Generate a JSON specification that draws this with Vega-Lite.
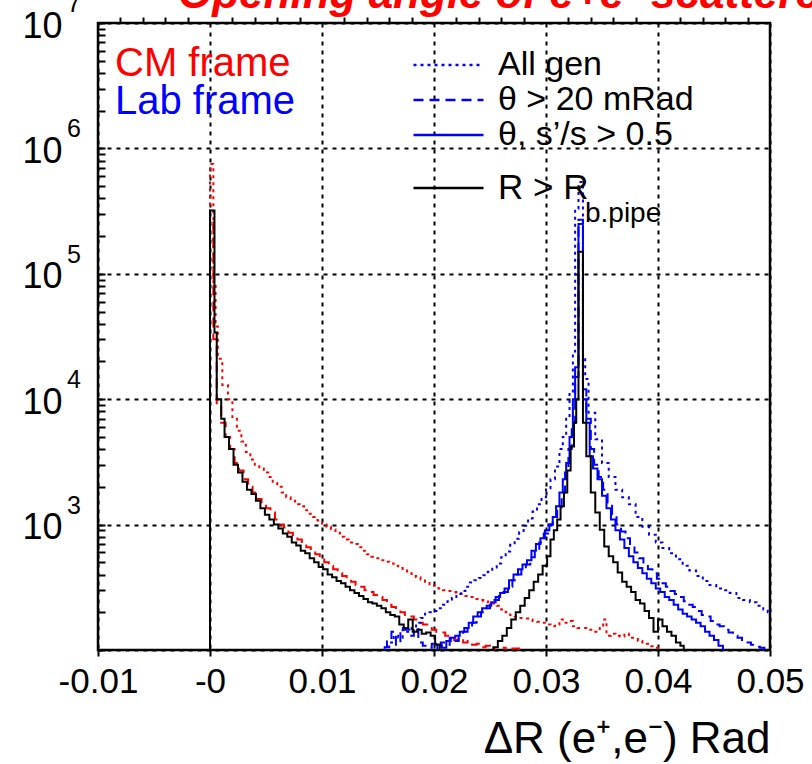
{
  "$schema": "https://vega.github.io/schema/vega-lite/v6.json",
  "width": 672,
  "height": 627,
  "autosize": {"type": "none"},
  "padding": {"left": 98, "top": 23, "right": 42, "bottom": 114},
  "background": "white",
  "config": {
    "font": "Liberation Sans",
    "view": {"stroke": "black", "strokeWidth": 2.5}
  },
  "title": {
    "text": "Opening angle of e+e- scattered",
    "color": "#ff0000",
    "fontSize": 44,
    "fontStyle": "italic",
    "fontWeight": "bold",
    "anchor": "start",
    "frame": "group",
    "dx": 80,
    "offset": -25
  },
  "resolve": {"axis": {"x": "independent", "y": "independent"}},
  "datasets": {
    "series": [
      {"s": "cmA", "frame": "CM frame", "cut": "All gen", "rcut": "other"},
      {"s": "cmT", "frame": "CM frame", "cut": "θ > 20 mRad", "rcut": "other"},
      {"s": "lA", "frame": "Lab frame", "cut": "All gen", "rcut": "other"},
      {"s": "lT", "frame": "Lab frame", "cut": "θ > 20 mRad", "rcut": "other"},
      {"s": "lS", "frame": "Lab frame", "cut": "θ, s’/s > 0.5", "rcut": "other"},
      {"s": "k", "frame": "R", "cut": "R > R", "rcut": "R > R"}
    ],
    "h": [
      {"s":"cmA","x":-0.001,"y":10},{"s":"cmA","x":0,"y":750000},{"s":"cmA","x":0.0003,"y":83000},{"s":"cmA","x":0.0005,"y":38000},{"s":"cmA","x":0.0007,"y":21000},{"s":"cmA","x":0.0011,"y":13000},{"s":"cmA","x":0.0016,"y":10000},{"s":"cmA","x":0.002,"y":7200},{"s":"cmA","x":0.0024,"y":5600},{"s":"cmA","x":0.0028,"y":4600},{"s":"cmA","x":0.0032,"y":3800},{"s":"cmA","x":0.0036,"y":3300},{"s":"cmA","x":0.004,"y":3000},{"s":"cmA","x":0.0044,"y":2800},{"s":"cmA","x":0.0048,"y":2600},{"s":"cmA","x":0.0052,"y":2400},{"s":"cmA","x":0.0056,"y":2150},{"s":"cmA","x":0.006,"y":2000},{"s":"cmA","x":0.0064,"y":1800},{"s":"cmA","x":0.0068,"y":1650},{"s":"cmA","x":0.0072,"y":1550},{"s":"cmA","x":0.0076,"y":1450},{"s":"cmA","x":0.008,"y":1400},{"s":"cmA","x":0.0084,"y":1300},{"s":"cmA","x":0.0088,"y":1220},{"s":"cmA","x":0.0092,"y":1150},{"s":"cmA","x":0.0096,"y":1080},{"s":"cmA","x":0.01,"y":1000},{"s":"cmA","x":0.0104,"y":960},{"s":"cmA","x":0.0108,"y":920},{"s":"cmA","x":0.0112,"y":860},{"s":"cmA","x":0.0116,"y":800},{"s":"cmA","x":0.012,"y":760},{"s":"cmA","x":0.0124,"y":720},{"s":"cmA","x":0.0128,"y":700},{"s":"cmA","x":0.0132,"y":660},{"s":"cmA","x":0.0136,"y":620},{"s":"cmA","x":0.014,"y":580},{"s":"cmA","x":0.0144,"y":555},{"s":"cmA","x":0.0148,"y":540},{"s":"cmA","x":0.0152,"y":520},{"s":"cmA","x":0.0156,"y":505},{"s":"cmA","x":0.016,"y":490},{"s":"cmA","x":0.0164,"y":470},{"s":"cmA","x":0.0168,"y":450},{"s":"cmA","x":0.0172,"y":430},{"s":"cmA","x":0.0176,"y":410},{"s":"cmA","x":0.018,"y":390},{"s":"cmA","x":0.0184,"y":380},{"s":"cmA","x":0.0188,"y":365},{"s":"cmA","x":0.0192,"y":350},{"s":"cmA","x":0.0196,"y":335},{"s":"cmA","x":0.02,"y":325},{"s":"cmA","x":0.0204,"y":310},{"s":"cmA","x":0.0208,"y":300},{"s":"cmA","x":0.0212,"y":295},{"s":"cmA","x":0.0216,"y":290},{"s":"cmA","x":0.022,"y":285},{"s":"cmA","x":0.0224,"y":280},{"s":"cmA","x":0.0228,"y":270},{"s":"cmA","x":0.0232,"y":265},{"s":"cmA","x":0.0236,"y":255},{"s":"cmA","x":0.024,"y":250},{"s":"cmA","x":0.0244,"y":245},{"s":"cmA","x":0.0248,"y":240},{"s":"cmA","x":0.0252,"y":235},{"s":"cmA","x":0.0256,"y":225},{"s":"cmA","x":0.026,"y":210},{"s":"cmA","x":0.0264,"y":200},{"s":"cmA","x":0.0268,"y":190},{"s":"cmA","x":0.0272,"y":185},{"s":"cmA","x":0.0276,"y":180},{"s":"cmA","x":0.028,"y":178},{"s":"cmA","x":0.0284,"y":175},{"s":"cmA","x":0.0288,"y":170},{"s":"cmA","x":0.0292,"y":168},{"s":"cmA","x":0.0296,"y":165},{"s":"cmA","x":0.03,"y":160},{"s":"cmA","x":0.0304,"y":155},{"s":"cmA","x":0.0308,"y":160},{"s":"cmA","x":0.0312,"y":175},{"s":"cmA","x":0.0316,"y":165},{"s":"cmA","x":0.032,"y":170},{"s":"cmA","x":0.0324,"y":155},{"s":"cmA","x":0.0328,"y":150},{"s":"cmA","x":0.0332,"y":150},{"s":"cmA","x":0.0336,"y":145},{"s":"cmA","x":0.034,"y":145},{"s":"cmA","x":0.0344,"y":140},{"s":"cmA","x":0.0348,"y":150},{"s":"cmA","x":0.0351,"y":175},{"s":"cmA","x":0.0354,"y":130},{"s":"cmA","x":0.0358,"y":135},{"s":"cmA","x":0.0362,"y":130},{"s":"cmA","x":0.0366,"y":128},{"s":"cmA","x":0.037,"y":135},{"s":"cmA","x":0.0374,"y":125},{"s":"cmA","x":0.0378,"y":125},{"s":"cmA","x":0.0382,"y":118},{"s":"cmA","x":0.0386,"y":115},{"s":"cmA","x":0.039,"y":112},{"s":"cmA","x":0.0394,"y":107},{"s":"cmA","x":0.0398,"y":104},{"s":"cmA","x":0.0402,"y":20},

      {"s":"cmT","x":-0.001,"y":10},{"s":"cmT","x":0,"y":280000},{"s":"cmT","x":0.0003,"y":30000},{"s":"cmT","x":0.0006,"y":9000},{"s":"cmT","x":0.001,"y":6500},{"s":"cmT","x":0.0014,"y":5000},{"s":"cmT","x":0.0018,"y":4000},{"s":"cmT","x":0.0022,"y":3100},{"s":"cmT","x":0.0026,"y":2700},{"s":"cmT","x":0.003,"y":2300},{"s":"cmT","x":0.0034,"y":2000},{"s":"cmT","x":0.0038,"y":1800},{"s":"cmT","x":0.0042,"y":1600},{"s":"cmT","x":0.0046,"y":1450},{"s":"cmT","x":0.005,"y":1350},{"s":"cmT","x":0.0054,"y":1250},{"s":"cmT","x":0.0058,"y":1100},{"s":"cmT","x":0.0062,"y":1000},{"s":"cmT","x":0.0066,"y":950},{"s":"cmT","x":0.007,"y":860},{"s":"cmT","x":0.0074,"y":800},{"s":"cmT","x":0.0078,"y":760},{"s":"cmT","x":0.0082,"y":700},{"s":"cmT","x":0.0086,"y":660},{"s":"cmT","x":0.009,"y":620},{"s":"cmT","x":0.0094,"y":580},{"s":"cmT","x":0.0098,"y":540},{"s":"cmT","x":0.0102,"y":500},{"s":"cmT","x":0.0106,"y":470},{"s":"cmT","x":0.011,"y":440},{"s":"cmT","x":0.0114,"y":410},{"s":"cmT","x":0.0118,"y":390},{"s":"cmT","x":0.0122,"y":370},{"s":"cmT","x":0.0126,"y":350},{"s":"cmT","x":0.013,"y":330},{"s":"cmT","x":0.0134,"y":320},{"s":"cmT","x":0.0138,"y":300},{"s":"cmT","x":0.0142,"y":290},{"s":"cmT","x":0.0146,"y":275},{"s":"cmT","x":0.015,"y":265},{"s":"cmT","x":0.0154,"y":250},{"s":"cmT","x":0.0158,"y":230},{"s":"cmT","x":0.0162,"y":220},{"s":"cmT","x":0.0166,"y":210},{"s":"cmT","x":0.017,"y":200},{"s":"cmT","x":0.0174,"y":190},{"s":"cmT","x":0.0178,"y":185},{"s":"cmT","x":0.0182,"y":175},{"s":"cmT","x":0.0186,"y":165},{"s":"cmT","x":0.019,"y":160},{"s":"cmT","x":0.0194,"y":150},{"s":"cmT","x":0.0198,"y":145},{"s":"cmT","x":0.0202,"y":140},{"s":"cmT","x":0.0206,"y":138},{"s":"cmT","x":0.021,"y":130},{"s":"cmT","x":0.0214,"y":125},{"s":"cmT","x":0.0218,"y":120},{"s":"cmT","x":0.0222,"y":125},{"s":"cmT","x":0.0226,"y":115},{"s":"cmT","x":0.023,"y":118},{"s":"cmT","x":0.0234,"y":110},{"s":"cmT","x":0.0238,"y":112},{"s":"cmT","x":0.0242,"y":105},{"s":"cmT","x":0.0246,"y":108},{"s":"cmT","x":0.025,"y":102},{"s":"cmT","x":0.0254,"y":40},{"s":"cmT","x":0.026,"y":104},{"s":"cmT","x":0.0264,"y":40},{"s":"cmT","x":0.027,"y":103},{"s":"cmT","x":0.0276,"y":20},

      {"s":"lA","x":0.0152,"y":20},{"s":"lA","x":0.0156,"y":105},{"s":"lA","x":0.016,"y":115},{"s":"lA","x":0.0164,"y":130},{"s":"lA","x":0.0168,"y":125},{"s":"lA","x":0.0172,"y":145},{"s":"lA","x":0.0176,"y":140},{"s":"lA","x":0.018,"y":150},{"s":"lA","x":0.0184,"y":165},{"s":"lA","x":0.0188,"y":180},{"s":"lA","x":0.0192,"y":195},{"s":"lA","x":0.0196,"y":200},{"s":"lA","x":0.02,"y":205},{"s":"lA","x":0.0204,"y":215},{"s":"lA","x":0.0208,"y":230},{"s":"lA","x":0.0212,"y":245},{"s":"lA","x":0.0216,"y":260},{"s":"lA","x":0.022,"y":280},{"s":"lA","x":0.0224,"y":295},{"s":"lA","x":0.0228,"y":320},{"s":"lA","x":0.0232,"y":345},{"s":"lA","x":0.0236,"y":360},{"s":"lA","x":0.024,"y":375},{"s":"lA","x":0.0244,"y":395},{"s":"lA","x":0.0248,"y":420},{"s":"lA","x":0.0252,"y":455},{"s":"lA","x":0.0256,"y":490},{"s":"lA","x":0.026,"y":550},{"s":"lA","x":0.0264,"y":610},{"s":"lA","x":0.0268,"y":690},{"s":"lA","x":0.0272,"y":770},{"s":"lA","x":0.0276,"y":870},{"s":"lA","x":0.028,"y":980},{"s":"lA","x":0.0284,"y":1120},{"s":"lA","x":0.0288,"y":1270},{"s":"lA","x":0.0292,"y":1450},{"s":"lA","x":0.0296,"y":1650},{"s":"lA","x":0.03,"y":1950},{"s":"lA","x":0.0304,"y":2300},{"s":"lA","x":0.0308,"y":2900},{"s":"lA","x":0.0312,"y":4000},{"s":"lA","x":0.0315,"y":5000},{"s":"lA","x":0.0318,"y":7000},{"s":"lA","x":0.0321,"y":11000},{"s":"lA","x":0.0324,"y":24000},{"s":"lA","x":0.0326,"y":330000},{"s":"lA","x":0.0329,"y":540000},{"s":"lA","x":0.0333,"y":22000},{"s":"lA","x":0.0335,"y":14500},{"s":"lA","x":0.0338,"y":7800},{"s":"lA","x":0.0344,"y":4800},{"s":"lA","x":0.035,"y":3100},{"s":"lA","x":0.0356,"y":2400},{"s":"lA","x":0.0362,"y":1900},{"s":"lA","x":0.0368,"y":1650},{"s":"lA","x":0.0374,"y":1450},{"s":"lA","x":0.038,"y":1150},{"s":"lA","x":0.0386,"y":960},{"s":"lA","x":0.0392,"y":830},{"s":"lA","x":0.0398,"y":720},{"s":"lA","x":0.0404,"y":650},{"s":"lA","x":0.041,"y":590},{"s":"lA","x":0.0416,"y":530},{"s":"lA","x":0.0422,"y":470},{"s":"lA","x":0.0428,"y":430},{"s":"lA","x":0.0434,"y":390},{"s":"lA","x":0.044,"y":355},{"s":"lA","x":0.0446,"y":330},{"s":"lA","x":0.0452,"y":310},{"s":"lA","x":0.0458,"y":300},{"s":"lA","x":0.0464,"y":285},{"s":"lA","x":0.047,"y":260},{"s":"lA","x":0.0476,"y":250},{"s":"lA","x":0.0482,"y":240},{"s":"lA","x":0.0488,"y":225},{"s":"lA","x":0.0494,"y":210},{"s":"lA","x":0.0498,"y":200},{"s":"lA","x":0.0502,"y":20},

      {"s":"lT","x":0.015,"y":20},{"s":"lT","x":0.0154,"y":105},{"s":"lT","x":0.0158,"y":120},{"s":"lT","x":0.0162,"y":140},{"s":"lT","x":0.0166,"y":110},{"s":"lT","x":0.017,"y":150},{"s":"lT","x":0.0174,"y":145},{"s":"lT","x":0.0178,"y":130},{"s":"lT","x":0.0182,"y":150},{"s":"lT","x":0.0186,"y":115},{"s":"lT","x":0.019,"y":108},{"s":"lT","x":0.0194,"y":104},{"s":"lT","x":0.0198,"y":112},{"s":"lT","x":0.0202,"y":106},{"s":"lT","x":0.0206,"y":115},{"s":"lT","x":0.021,"y":110},{"s":"lT","x":0.0214,"y":125},{"s":"lT","x":0.0218,"y":118},{"s":"lT","x":0.0222,"y":135},{"s":"lT","x":0.0226,"y":140},{"s":"lT","x":0.023,"y":150},{"s":"lT","x":0.0234,"y":165},{"s":"lT","x":0.0238,"y":185},{"s":"lT","x":0.0242,"y":200},{"s":"lT","x":0.0246,"y":215},{"s":"lT","x":0.025,"y":230},{"s":"lT","x":0.0254,"y":250},{"s":"lT","x":0.0258,"y":270},{"s":"lT","x":0.0262,"y":290},{"s":"lT","x":0.0266,"y":320},{"s":"lT","x":0.027,"y":360},{"s":"lT","x":0.0274,"y":400},{"s":"lT","x":0.0278,"y":440},{"s":"lT","x":0.0282,"y":480},{"s":"lT","x":0.0286,"y":550},{"s":"lT","x":0.029,"y":620},{"s":"lT","x":0.0294,"y":720},{"s":"lT","x":0.0298,"y":850},{"s":"lT","x":0.0302,"y":1000},{"s":"lT","x":0.0306,"y":1150},{"s":"lT","x":0.031,"y":1350},{"s":"lT","x":0.0314,"y":1800},{"s":"lT","x":0.0317,"y":2600},{"s":"lT","x":0.032,"y":4000},{"s":"lT","x":0.0323,"y":6500},{"s":"lT","x":0.0326,"y":15000},{"s":"lT","x":0.0329,"y":270000},{"s":"lT","x":0.0333,"y":12000},{"s":"lT","x":0.0336,"y":7000},{"s":"lT","x":0.034,"y":4000},{"s":"lT","x":0.0343,"y":3000},{"s":"lT","x":0.0347,"y":2400},{"s":"lT","x":0.0351,"y":1900},{"s":"lT","x":0.0355,"y":1500},{"s":"lT","x":0.0359,"y":1200},{"s":"lT","x":0.0363,"y":1000},{"s":"lT","x":0.0367,"y":880},{"s":"lT","x":0.0371,"y":780},{"s":"lT","x":0.0375,"y":680},{"s":"lT","x":0.0379,"y":600},{"s":"lT","x":0.0383,"y":540},{"s":"lT","x":0.0387,"y":480},{"s":"lT","x":0.0391,"y":440},{"s":"lT","x":0.0395,"y":410},{"s":"lT","x":0.0399,"y":370},{"s":"lT","x":0.0403,"y":340},{"s":"lT","x":0.0407,"y":320},{"s":"lT","x":0.0411,"y":295},{"s":"lT","x":0.0415,"y":280},{"s":"lT","x":0.0419,"y":265},{"s":"lT","x":0.0423,"y":245},{"s":"lT","x":0.0427,"y":230},{"s":"lT","x":0.0431,"y":220},{"s":"lT","x":0.0435,"y":205},{"s":"lT","x":0.0439,"y":190},{"s":"lT","x":0.0443,"y":185},{"s":"lT","x":0.0447,"y":170},{"s":"lT","x":0.0451,"y":160},{"s":"lT","x":0.0455,"y":155},{"s":"lT","x":0.0459,"y":145},{"s":"lT","x":0.0463,"y":138},{"s":"lT","x":0.0467,"y":130},{"s":"lT","x":0.0471,"y":125},{"s":"lT","x":0.0475,"y":118},{"s":"lT","x":0.0479,"y":115},{"s":"lT","x":0.0483,"y":110},{"s":"lT","x":0.0487,"y":106},{"s":"lT","x":0.0491,"y":104},{"s":"lT","x":0.0495,"y":20},

      {"s":"lS","x":0.0199,"y":20},{"s":"lS","x":0.0203,"y":110},{"s":"lS","x":0.0207,"y":104},{"s":"lS","x":0.0211,"y":118},{"s":"lS","x":0.0215,"y":125},{"s":"lS","x":0.0219,"y":130},{"s":"lS","x":0.0223,"y":140},{"s":"lS","x":0.0227,"y":150},{"s":"lS","x":0.0231,"y":165},{"s":"lS","x":0.0235,"y":185},{"s":"lS","x":0.0239,"y":200},{"s":"lS","x":0.0243,"y":215},{"s":"lS","x":0.0247,"y":225},{"s":"lS","x":0.0251,"y":240},{"s":"lS","x":0.0255,"y":265},{"s":"lS","x":0.0259,"y":285},{"s":"lS","x":0.0263,"y":310},{"s":"lS","x":0.0267,"y":360},{"s":"lS","x":0.0271,"y":400},{"s":"lS","x":0.0275,"y":440},{"s":"lS","x":0.0279,"y":480},{"s":"lS","x":0.0283,"y":520},{"s":"lS","x":0.0287,"y":620},{"s":"lS","x":0.0291,"y":700},{"s":"lS","x":0.0295,"y":780},{"s":"lS","x":0.0299,"y":900},{"s":"lS","x":0.0303,"y":1000},{"s":"lS","x":0.0306,"y":1150},{"s":"lS","x":0.0309,"y":1400},{"s":"lS","x":0.0312,"y":1800},{"s":"lS","x":0.0315,"y":2300},{"s":"lS","x":0.0318,"y":3100},{"s":"lS","x":0.0321,"y":5000},{"s":"lS","x":0.0324,"y":10000},{"s":"lS","x":0.0326,"y":18000},{"s":"lS","x":0.0329,"y":250000},{"s":"lS","x":0.0333,"y":10000},{"s":"lS","x":0.0336,"y":6500},{"s":"lS","x":0.0339,"y":3500},{"s":"lS","x":0.0342,"y":2800},{"s":"lS","x":0.0346,"y":2300},{"s":"lS","x":0.035,"y":1700},{"s":"lS","x":0.0354,"y":1350},{"s":"lS","x":0.0358,"y":1100},{"s":"lS","x":0.0362,"y":900},{"s":"lS","x":0.0366,"y":760},{"s":"lS","x":0.037,"y":650},{"s":"lS","x":0.0374,"y":560},{"s":"lS","x":0.0378,"y":500},{"s":"lS","x":0.0382,"y":450},{"s":"lS","x":0.0386,"y":410},{"s":"lS","x":0.039,"y":370},{"s":"lS","x":0.0394,"y":340},{"s":"lS","x":0.0398,"y":310},{"s":"lS","x":0.0402,"y":290},{"s":"lS","x":0.0406,"y":265},{"s":"lS","x":0.041,"y":250},{"s":"lS","x":0.0414,"y":230},{"s":"lS","x":0.0418,"y":210},{"s":"lS","x":0.0422,"y":195},{"s":"lS","x":0.0426,"y":185},{"s":"lS","x":0.043,"y":175},{"s":"lS","x":0.0434,"y":165},{"s":"lS","x":0.0438,"y":155},{"s":"lS","x":0.0442,"y":140},{"s":"lS","x":0.0446,"y":130},{"s":"lS","x":0.045,"y":120},{"s":"lS","x":0.0454,"y":108},{"s":"lS","x":0.0458,"y":20},

      {"s":"k","x":-0.001,"y":10},{"s":"k","x":0,"y":320000},{"s":"k","x":0.0004,"y":34000},{"s":"k","x":0.0006,"y":10000},{"s":"k","x":0.001,"y":7000},{"s":"k","x":0.0013,"y":5000},{"s":"k","x":0.0017,"y":4000},{"s":"k","x":0.0021,"y":3000},{"s":"k","x":0.0025,"y":2600},{"s":"k","x":0.0029,"y":2200},{"s":"k","x":0.0033,"y":1900},{"s":"k","x":0.0037,"y":1750},{"s":"k","x":0.0041,"y":1550},{"s":"k","x":0.0045,"y":1350},{"s":"k","x":0.0049,"y":1200},{"s":"k","x":0.0053,"y":1100},{"s":"k","x":0.0057,"y":1000},{"s":"k","x":0.0061,"y":930},{"s":"k","x":0.0065,"y":850},{"s":"k","x":0.0069,"y":800},{"s":"k","x":0.0073,"y":720},{"s":"k","x":0.0077,"y":680},{"s":"k","x":0.0081,"y":620},{"s":"k","x":0.0085,"y":590},{"s":"k","x":0.0089,"y":540},{"s":"k","x":0.0093,"y":500},{"s":"k","x":0.0097,"y":460},{"s":"k","x":0.0101,"y":440},{"s":"k","x":0.0105,"y":400},{"s":"k","x":0.0109,"y":380},{"s":"k","x":0.0113,"y":355},{"s":"k","x":0.0117,"y":340},{"s":"k","x":0.0121,"y":320},{"s":"k","x":0.0125,"y":300},{"s":"k","x":0.0129,"y":285},{"s":"k","x":0.0133,"y":270},{"s":"k","x":0.0137,"y":255},{"s":"k","x":0.0141,"y":240},{"s":"k","x":0.0145,"y":235},{"s":"k","x":0.0149,"y":225},{"s":"k","x":0.0153,"y":215},{"s":"k","x":0.0157,"y":200},{"s":"k","x":0.0161,"y":190},{"s":"k","x":0.0165,"y":185},{"s":"k","x":0.0169,"y":160},{"s":"k","x":0.0173,"y":150},{"s":"k","x":0.0177,"y":175},{"s":"k","x":0.0181,"y":140},{"s":"k","x":0.0185,"y":145},{"s":"k","x":0.0189,"y":135},{"s":"k","x":0.0193,"y":138},{"s":"k","x":0.0197,"y":130},{"s":"k","x":0.0201,"y":110},{"s":"k","x":0.0205,"y":20},{"s":"k","x":0.0249,"y":20},{"s":"k","x":0.0253,"y":105},{"s":"k","x":0.0257,"y":118},{"s":"k","x":0.0261,"y":130},{"s":"k","x":0.0265,"y":150},{"s":"k","x":0.0269,"y":175},{"s":"k","x":0.0273,"y":200},{"s":"k","x":0.0277,"y":225},{"s":"k","x":0.0281,"y":260},{"s":"k","x":0.0285,"y":300},{"s":"k","x":0.0289,"y":350},{"s":"k","x":0.0293,"y":400},{"s":"k","x":0.0297,"y":470},{"s":"k","x":0.0301,"y":560},{"s":"k","x":0.0304,"y":760},{"s":"k","x":0.0307,"y":900},{"s":"k","x":0.031,"y":1100},{"s":"k","x":0.0313,"y":1400},{"s":"k","x":0.0316,"y":1800},{"s":"k","x":0.0319,"y":2700},{"s":"k","x":0.0322,"y":4200},{"s":"k","x":0.0325,"y":6500},{"s":"k","x":0.0327,"y":10000},{"s":"k","x":0.0329,"y":150000},{"s":"k","x":0.0333,"y":6500},{"s":"k","x":0.0336,"y":3500},{"s":"k","x":0.034,"y":1800},{"s":"k","x":0.0344,"y":1250},{"s":"k","x":0.0348,"y":910},{"s":"k","x":0.0352,"y":670},{"s":"k","x":0.0356,"y":560},{"s":"k","x":0.036,"y":500},{"s":"k","x":0.0364,"y":415},{"s":"k","x":0.0368,"y":350},{"s":"k","x":0.0372,"y":320},{"s":"k","x":0.0376,"y":290},{"s":"k","x":0.038,"y":250},{"s":"k","x":0.0384,"y":235},{"s":"k","x":0.0388,"y":205},{"s":"k","x":0.0392,"y":180},{"s":"k","x":0.0396,"y":140},{"s":"k","x":0.04,"y":175},{"s":"k","x":0.0404,"y":155},{"s":"k","x":0.0408,"y":140},{"s":"k","x":0.0412,"y":130},{"s":"k","x":0.0416,"y":115},{"s":"k","x":0.042,"y":108},{"s":"k","x":0.0423,"y":20}
    ]
  },
  "layer": [
    {
      "data": {"name": "h"},
      "transform": [
        {"lookup": "s", "from": {"data": {"name": "series"}, "key": "s", "fields": ["frame", "cut", "rcut"]}}
      ],
      "encoding": {
        "x": {
          "field": "x", "type": "quantitative",
          "scale": {"domain": [-0.01, 0.05], "nice": false, "zero": false},
          "axis": {
            "values": [-0.01, 0, 0.01, 0.02, 0.03, 0.04, 0.05],
            "labelExpr": "abs(datum.value) < 1e-9 ? '-0' : (datum.value < 0 ? '-' + format(-datum.value, '.2f') : format(datum.value, '.2f'))",
            "domain": false,
            "ticks": true, "tickSize": 6, "tickWidth": 2, "tickColor": "black",
            "grid": true, "gridColor": "black", "gridDash": [4, 5], "gridWidth": 2,
            "labelFontSize": 35, "labelColor": "black", "labelPadding": 8, "labelFlush": false, "labelOverlap": false, "labelBound": false,
            "title": "ΔR (e⁺,e⁻) Rad", "titleFontSize": 44, "titleFontWeight": "normal", "titleColor": "black",
            "titleAnchor": "end", "titleAlign": "right", "titleBaseline": "alphabetic", "titleX": 672, "titleY": 102
          }
        },
        "y": {
          "field": "y", "type": "quantitative",
          "scale": {"type": "log", "domain": [100, 10000000], "nice": false},
          "axis": {
            "values": [100,200,300,400,500,600,700,800,900,1000,2000,3000,4000,5000,6000,7000,8000,9000,10000,20000,30000,40000,50000,60000,70000,80000,90000,100000,200000,300000,400000,500000,600000,700000,800000,900000,1000000,2000000,3000000,4000000,5000000,6000000,7000000,8000000,9000000,10000000],
            "labelExpr": "(abs(log(datum.value)/LN10 - round(log(datum.value)/LN10)) < 0.001 && datum.value > 500) ? '10' : ''",
            "domain": false,
            "ticks": true, "tickSize": -7, "tickWidth": 2, "tickColor": "black",
            "grid": true, "gridColor": "black", "gridDash": [4, 5], "gridWidth": 2,
            "gridOpacity": {"condition": {"test": "abs(log(datum.value)/LN10 - round(log(datum.value)/LN10)) < 0.001", "value": 1}, "value": 0},
            "labelFontSize": 36, "labelColor": "black", "labelPadding": 43, "labelFlush": false, "labelOverlap": false, "labelOffset": 3,
            "title": null
          }
        },
        "color": {
          "field": "frame", "type": "nominal",
          "scale": {"domain": ["CM frame", "Lab frame", "R"], "range": ["#ff0000", "#0000ff", "#000000"]},
          "legend": {
            "values": ["CM frame", "Lab frame"],
            "orient": "none", "legendX": -23, "legendY": 23, "title": null, "padding": 0,
            "symbolSize": 0, "symbolOpacity": 0, "symbolStrokeWidth": 0,
            "labelFontSize": 40, "labelOffset": 0, "labelLimit": 400, "clipHeight": 36, "rowPadding": -4,
            "encode": {"labels": {"update": {"fill": {"signal": "datum.value === 'CM frame' ? '#ff0000' : '#0000ff'"}}}}
          }
        },
        "strokeDash": {
          "field": "cut", "type": "nominal",
          "scale": {"domain": ["All gen", "θ > 20 mRad", "θ, s’/s > 0.5", "R > R"], "range": [[3, 4], [10, 6], [1, 0], [1, 0]]},
          "legend": {
            "values": ["All gen", "θ > 20 mRad", "θ, s’/s > 0.5"],
            "orient": "none", "legendX": 314, "legendY": 25, "title": null, "padding": 0,
            "symbolType": "stroke", "symbolSize": 4900, "symbolStrokeWidth": 2.5, "symbolStrokeColor": "#0000ff",
            "labelFontSize": 34, "labelColor": "black", "labelOffset": 13, "labelLimit": 400, "clipHeight": 34, "rowPadding": 1
          }
        },
        "opacity": {
          "field": "rcut", "type": "nominal",
          "scale": {"domain": ["R > R", "other"], "range": [1, 1]},
          "legend": {
            "values": ["R > R"],
            "orient": "none", "legendX": 314, "legendY": 148, "title": null, "padding": 0,
            "symbolType": "stroke", "symbolSize": 4900, "symbolStrokeWidth": 2.5, "symbolStrokeColor": "#000000", "symbolDash": [1, 0],
            "labelFontSize": 35, "labelColor": "black", "labelOffset": 13, "labelLimit": 400, "clipHeight": 34
          }
        }
      },
      "layer": [
        {"transform": [{"filter": "datum.frame === 'CM frame'"}], "mark": {"type": "line", "interpolate": "step-after", "strokeWidth": 2, "clip": true}},
        {"transform": [{"filter": "datum.frame === 'Lab frame'"}], "mark": {"type": "line", "interpolate": "step-after", "strokeWidth": 2, "clip": true}},
        {"transform": [{"filter": "datum.frame === 'R'"}], "mark": {"type": "line", "interpolate": "step-after", "strokeWidth": 2, "clip": true}}
      ]
    },
    {
      "data": {"values": [{"y": 1000, "e": "3"}, {"y": 10000, "e": "4"}, {"y": 100000, "e": "5"}, {"y": 1000000, "e": "6"}, {"y": 10000000, "e": "7"}]},
      "mark": {"type": "text", "align": "left", "baseline": "middle", "fontSize": 25, "dx": -31, "dy": -19, "color": "black"},
      "encoding": {
        "x": {
          "datum": -0.01, "type": "quantitative",
          "axis": {
            "values": [-0.008,-0.006,-0.004,-0.002,0.002,0.004,0.006,0.008,0.012,0.014,0.016,0.018,0.022,0.024,0.026,0.028,0.032,0.034,0.036,0.038,0.042,0.044,0.046,0.048],
            "labels": false, "grid": false, "domain": false, "title": null,
            "ticks": true, "tickSize": 6, "tickWidth": 2, "tickColor": "black"
          }
        },
        "y": {"field": "y", "type": "quantitative", "scale": {"type": "log", "domain": [100, 10000000], "nice": false}, "axis": null},
        "text": {"field": "e"}
      }
    },
    {
      "data": {"values": [{"t": "b.pipe"}]},
      "mark": {"type": "text", "align": "left", "baseline": "middle", "fontSize": 28, "color": "black"},
      "encoding": {
        "x": {"datum": 0.03348, "type": "quantitative", "axis": null},
        "y": {"datum": 300000, "type": "quantitative", "axis": null},
        "text": {"field": "t"}
      }
    }
  ]
}
